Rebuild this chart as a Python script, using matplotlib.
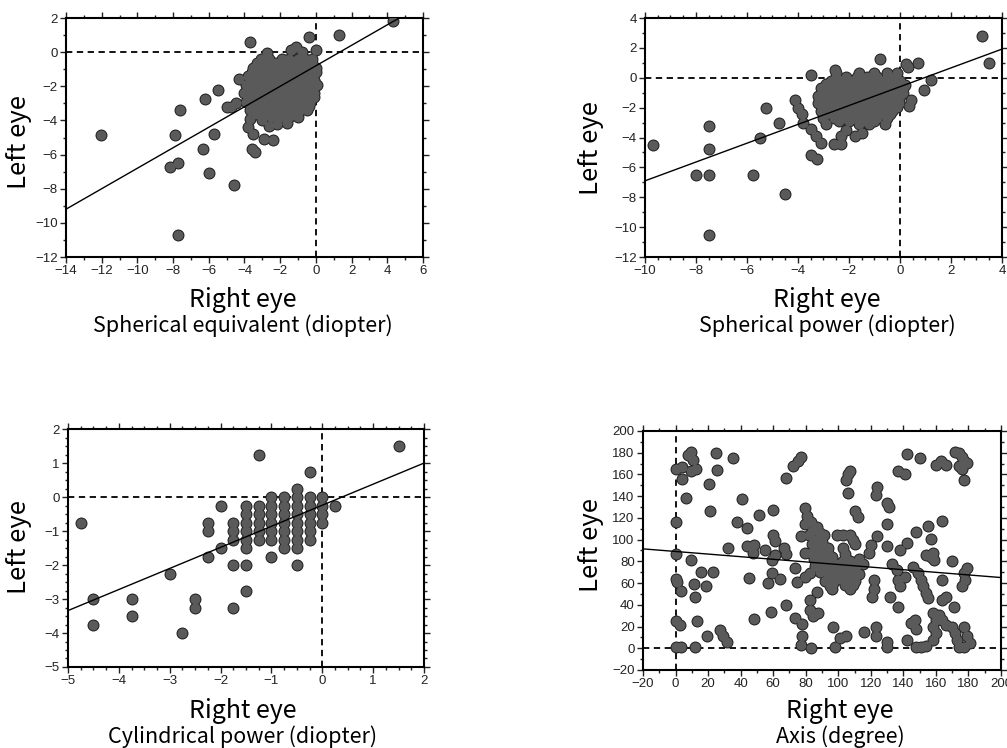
import numpy as np
import matplotlib
matplotlib.use("Agg")
import matplotlib.pyplot as plt
from matplotlib.ticker import MultipleLocator

# Spherical equivalent (right eye, left eye)
se_points = [
    (4.3, 1.8), (1.3, 1.0), (-0.4, 0.9), (-3.7, 0.6), (0.0, 0.1), (-4.3, -1.6),
    (-5.5, -2.2), (-6.2, -2.75), (-7.6, -3.4), (-12.05, -4.85), (-7.9, -4.85),
    (-5.7, -4.8), (-6.35, -5.65), (-8.15, -6.7), (-7.75, -6.5), (-6.0, -7.1),
    (-4.6, -7.8), (-7.7, -10.7), (-5.0, -3.2), (-4.75, -3.2), (-4.5, -3.0),
    (-3.55, -5.7), (-3.4, -5.85),
    (-3.8, -4.4), (-3.5, -4.8), (-2.9, -5.1), (-2.4, -5.15), (-2.2, -4.2),
    (-1.6, -4.15), (-3.7, -3.9), (-3.0, -4.0), (-2.6, -4.3),
    (-2.75, -0.05), (-1.1, 0.3), (-1.4, 0.1), (-0.8, 0.0),
    (-3.1, -0.4), (-2.6, -0.4), (-1.9, -0.4), (-1.5, -0.4), (-1.0, -0.4), (-0.6, -0.4), (-0.2, -0.4),
    (-3.3, -0.65), (-2.8, -0.65), (-2.3, -0.65), (-1.8, -0.65), (-1.4, -0.65), (-1.0, -0.65),
    (-0.6, -0.65), (-0.2, -0.65),
    (-3.5, -0.9), (-3.0, -0.9), (-2.5, -0.9), (-2.0, -0.9), (-1.6, -0.9), (-1.2, -0.9), (-0.8, -0.9),
    (-0.4, -0.9), (0.0, -0.9),
    (-3.6, -1.15), (-3.2, -1.15), (-2.7, -1.15), (-2.2, -1.15), (-1.7, -1.15), (-1.3, -1.15),
    (-0.8, -1.15), (-0.4, -1.15), (0.0, -1.15),
    (-3.8, -1.4), (-3.3, -1.4), (-2.9, -1.4), (-2.4, -1.4), (-1.9, -1.4), (-1.5, -1.4), (-1.0, -1.4),
    (-0.6, -1.4), (-0.2, -1.4),
    (-3.7, -1.65), (-3.2, -1.65), (-2.8, -1.65), (-2.3, -1.65), (-1.9, -1.65), (-1.4, -1.65),
    (-1.0, -1.65), (-0.5, -1.65), (-0.1, -1.65),
    (-3.9, -1.9), (-3.5, -1.9), (-3.0, -1.9), (-2.6, -1.9), (-2.1, -1.9), (-1.7, -1.9), (-1.2, -1.9),
    (-0.8, -1.9), (-0.3, -1.9), (0.05, -1.9),
    (-3.8, -2.15), (-3.3, -2.15), (-2.8, -2.15), (-2.4, -2.15), (-1.9, -2.15), (-1.5, -2.15),
    (-1.0, -2.15), (-0.6, -2.15), (-0.2, -2.15),
    (-4.0, -2.4), (-3.6, -2.4), (-3.1, -2.4), (-2.7, -2.4), (-2.2, -2.4), (-1.8, -2.4), (-1.3, -2.4),
    (-0.9, -2.4), (-0.5, -2.4), (-0.1, -2.4),
    (-3.8, -2.65), (-3.3, -2.65), (-2.9, -2.65), (-2.4, -2.65), (-1.9, -2.65), (-1.4, -2.65),
    (-1.0, -2.65), (-0.5, -2.65), (-0.1, -2.65),
    (-3.9, -2.9), (-3.4, -2.9), (-3.0, -2.9), (-2.5, -2.9), (-2.0, -2.9), (-1.6, -2.9), (-1.1, -2.9),
    (-0.7, -2.9), (-0.3, -2.9),
    (-3.6, -3.15), (-3.1, -3.15), (-2.7, -3.15), (-2.2, -3.15), (-1.7, -3.15), (-1.2, -3.15),
    (-0.8, -3.15), (-0.4, -3.15),
    (-3.7, -3.4), (-3.2, -3.4), (-2.8, -3.4), (-2.3, -3.4), (-1.8, -3.4), (-1.4, -3.4), (-0.9, -3.4),
    (-0.5, -3.4),
    (-3.3, -3.6), (-2.8, -3.6), (-2.3, -3.6), (-1.8, -3.6), (-1.3, -3.6),
    (-3.0, -3.8), (-2.5, -3.8), (-2.0, -3.8), (-1.5, -3.8), (-1.0, -3.8),
]

# Spherical power
sp_points = [
    (3.2, 2.8), (3.5, 1.0), (-0.8, 1.25), (0.7, 1.0), (0.25, 0.9), (0.3, 0.7), (-3.5, 0.2),
    (-2.55, 0.55), (-9.7, -4.5), (-7.5, -3.2), (-7.5, -4.75), (-8.0, -6.5), (-7.5, -6.5),
    (-5.75, -6.5), (-7.5, -10.5), (-4.5, -7.75), (-5.25, -2.0), (-4.75, -3.0), (-5.5, -4.0),
    (1.2, -0.15), (0.95, -0.8),
    (-4.1, -1.5), (-4.0, -2.0), (-3.85, -2.4), (-3.8, -3.0), (-3.5, -3.4), (-3.3, -3.9),
    (-3.1, -4.4), (-3.5, -5.2), (-3.25, -5.45), (-2.6, -4.45), (-2.3, -4.45), (-1.75, -3.9),
    (-1.5, -3.7), (-2.1, -3.5), (-2.3, -3.9),
    (0.35, -1.9), (0.45, -1.5), (0.1, -1.0), (0.2, -0.5),
    (-2.5, 0.3), (-1.6, 0.3), (-1.0, 0.3), (-0.5, 0.3), (-0.1, 0.3),
    (-2.5, 0.05), (-2.1, 0.05), (-1.7, 0.05), (-1.3, 0.05), (-0.9, 0.05), (-0.5, 0.05), (-0.2, 0.05),
    (-2.7, -0.2), (-2.3, -0.2), (-1.9, -0.2), (-1.5, -0.2), (-1.1, -0.2), (-0.7, -0.2), (-0.3, -0.2), (0.0, -0.2),
    (-2.9, -0.45), (-2.5, -0.45), (-2.1, -0.45), (-1.7, -0.45), (-1.3, -0.45), (-0.9, -0.45),
    (-0.5, -0.45), (-0.1, -0.45),
    (-3.1, -0.7), (-2.7, -0.7), (-2.3, -0.7), (-1.9, -0.7), (-1.5, -0.7), (-1.1, -0.7), (-0.7, -0.7),
    (-0.3, -0.7), (0.1, -0.7),
    (-3.0, -0.95), (-2.5, -0.95), (-2.1, -0.95), (-1.7, -0.95), (-1.3, -0.95), (-0.9, -0.95),
    (-0.5, -0.95), (-0.1, -0.95),
    (-3.2, -1.2), (-2.8, -1.2), (-2.4, -1.2), (-2.0, -1.2), (-1.6, -1.2), (-1.2, -1.2), (-0.8, -1.2),
    (-0.4, -1.2), (0.0, -1.2),
    (-3.0, -1.45), (-2.6, -1.45), (-2.2, -1.45), (-1.8, -1.45), (-1.4, -1.45), (-1.0, -1.45),
    (-0.6, -1.45), (-0.2, -1.45),
    (-3.2, -1.7), (-2.8, -1.7), (-2.4, -1.7), (-2.0, -1.7), (-1.6, -1.7), (-1.2, -1.7), (-0.8, -1.7),
    (-0.4, -1.7), (-0.05, -1.7),
    (-3.0, -1.95), (-2.5, -1.95), (-2.1, -1.95), (-1.7, -1.95), (-1.3, -1.95), (-0.9, -1.95),
    (-0.5, -1.95), (-0.1, -1.95),
    (-3.1, -2.2), (-2.7, -2.2), (-2.3, -2.2), (-1.9, -2.2), (-1.5, -2.2), (-1.1, -2.2), (-0.7, -2.2),
    (-0.3, -2.2),
    (-2.9, -2.45), (-2.5, -2.45), (-2.0, -2.45), (-1.6, -2.45), (-1.2, -2.45), (-0.8, -2.45),
    (-0.4, -2.45),
    (-3.0, -2.7), (-2.6, -2.7), (-2.2, -2.7), (-1.8, -2.7), (-1.4, -2.7), (-0.9, -2.7), (-0.5, -2.7),
    (-2.4, -2.9), (-2.0, -2.9), (-1.4, -2.9), (-1.0, -2.9),
    (-2.9, -3.1), (-1.6, -3.1), (-1.2, -3.1), (-0.6, -3.1),
]

# Cylindrical power
cy_points = [
    (-1.75, -0.75), (-1.75, -1.0), (-1.75, -1.25),
    (-1.5, -0.25), (-1.5, -0.5), (-1.5, -0.75), (-1.5, -1.0), (-1.5, -1.25), (-1.5, -1.5),
    (-1.25, -0.25), (-1.25, -0.5), (-1.25, -0.75), (-1.25, -1.0), (-1.25, -1.25),
    (-1.0, 0.0), (-1.0, -0.25), (-1.0, -0.5), (-1.0, -0.75), (-1.0, -1.0), (-1.0, -1.25),
    (-0.75, 0.0), (-0.75, -0.25), (-0.75, -0.5), (-0.75, -0.75), (-0.75, -1.0), (-0.75, -1.25), (-0.75, -1.5),
    (-0.5, 0.25), (-0.5, 0.0), (-0.5, -0.25), (-0.5, -0.5), (-0.5, -0.75), (-0.5, -1.0), (-0.5, -1.25), (-0.5, -1.5),
    (-0.25, 0.0), (-0.25, -0.25), (-0.25, -0.5), (-0.25, -0.75), (-0.25, -1.0), (-0.25, -1.25),
    (0.0, 0.0), (0.0, -0.25), (0.0, -0.5), (0.0, -0.75),
    (1.5, 1.5), (-1.25, 1.25), (-0.25, 0.75), (-4.75, -0.75), (-2.0, -0.25), (0.25, -0.25),
    (-2.25, -0.75), (-2.25, -1.0), (-2.0, -1.5), (-2.25, -1.75), (-3.0, -2.25), (-4.5, -3.0),
    (-4.5, -3.75), (-3.75, -3.0), (-3.75, -3.5), (-2.5, -3.0), (-2.5, -3.25), (-2.75, -4.0),
    (-1.75, -3.25), (-1.5, -2.75), (-1.5, -2.0), (-1.75, -2.0), (-0.5, -2.0), (-1.0, -1.75),
]

# Axis (degree)
ax_points = [
    (0, 165), (3.7, 167), (3.7, 156), (7.7, 178), (9.7, 181), (10.8, 173), (9.7, 163), (12.8, 165),
    (6.7, 138), (20.4, 151), (25.1, 180), (25.5, 164), (35.4, 175), (21.4, 126), (40.9, 137),
    (37.9, 116), (44, 111), (0.5, 116), (0.5, 87), (9.7, 81), (0, 64), (1, 61), (3.6, 53),
    (11.4, 59), (19, 57), (15.7, 70), (22.9, 70), (11.8, 47), (13.2, 25), (0.5, 25), (2.6, 21),
    (19.5, 11), (27.3, 17), (29, 11), (31.4, 6), (0.5, 1), (3.6, 1), (11.8, 1), (32.3, 92),
    (44, 94.5), (48, 95), (47.8, 87.5), (45, 65), (51.2, 123), (55.3, 90), (59.9, 127),
    (60, 104), (61, 99), (59, 81), (61, 86), (56.9, 60), (59, 69), (64, 64), (58.4, 33),
    (48, 27), (66.5, 92), (67.6, 87), (67.6, 157), (67.8, 40), (72, 168), (75, 172), (77, 176),
    (73.6, 74), (77, 103), (74.5, 61), (79.6, 66), (82.6, 69), (73.5, 28), (77.6, 22),
    (77.6, 11), (77, 3), (79.6, 87.5), (83.5, 0),
    (79.6, 129), (81, 122), (83, 116), (85.5, 111), (88.5, 106), (79.6, 114), (82, 104),
    (84, 96), (86, 90), (88, 84), (90.5, 78), (92.5, 72), (85, 82), (88, 92), (90.5, 88),
    (93, 84), (95, 80), (83, 88), (86, 76), (89, 70), (92, 62), (95, 57), (86.7, 52),
    (82.6, 44), (82.6, 35), (84.6, 30), (87.8, 32),
    (86, 100), (90, 98), (92, 92), (94, 88), (96, 84), (89, 80), (92, 76), (96, 70),
    (84, 108), (87, 112), (90, 96), (91, 104), (94, 92), (97, 76), (99, 72), (94, 66),
    (98, 64), (96, 55), (97, 20), (98, 1), (101, 9), (105, 11), (99, 104), (103, 104), (107, 104),
    (109, 100), (110, 96), (103, 92), (104, 87),
    (100, 78), (103, 72), (101, 64), (104, 58), (107, 55), (106, 66), (109, 72), (107, 80),
    (111, 76), (113, 82), (115, 78), (110, 62), (113, 68), (104, 62), (100, 70), (103, 80),
    (102, 68), (105, 76), (108, 68), (111, 70), (106, 60), (109, 58), (97, 60),
    (106, 160), (105, 155), (107, 163), (106, 143), (110, 126), (112, 121), (116, 15),
    (120, 95), (119, 87.5), (124, 103), (122, 63), (122, 55), (121, 47.5), (123, 20), (123, 11),
    (124, 148), (123, 141), (130, 134), (131, 130), (130, 114), (130, 94), (130, 6), (130, 1),
    (132, 47.5), (133, 78), (136, 72), (137, 63), (138, 57), (141, 66), (138, 90), (137, 38),
    (137, 163), (141, 160), (142, 179), (142, 97), (148, 107), (150, 175), (142, 8),
    (145, 23), (147, 26), (148, 18), (146, 75), (149, 69), (151, 63), (152, 57), (154, 51),
    (155, 46), (155, 113), (157, 101), (158, 87.5), (159, 81), (157, 84), (154, 86),
    (148, 1), (151, 1), (154, 2), (158, 8), (160, 14), (158, 20), (160, 26), (158, 32),
    (162, 31), (164, 26), (166, 21), (170, 20), (172, 14), (173, 8), (174, 1), (164, 117),
    (164, 63), (164, 44.5), (166, 47.6), (160, 169), (163, 172), (166, 169), (170, 80),
    (171, 38), (172, 181), (174, 180), (176, 176), (177, 172), (179, 171), (176, 165),
    (177, 155), (174, 168), (179, 74), (177, 69), (178, 63), (176, 57), (177, 20), (179, 11),
    (177, 1), (181, 5),
]

# regression lines (slope, intercept)
se_fit = (0.60, -0.80)
sp_fit = (0.63, -0.60)
cy_fit = (0.62, -0.24)
ax_fit = (-0.12, 89.1)

panels = [
    dict(pts=se_points, fit=se_fit, xlim=(-14, 6), ylim=(-12, 2), xmaj=2, xmin=1, ymaj=2, ymin=1,
         pos=[0.0655, 0.6564, 0.3545, 0.3195], sub="Spherical equivalent (diopter)",
         lx=243, ly=300, yl=(19, 142)),
    dict(pts=sp_points, fit=sp_fit, xlim=(-10, 4), ylim=(-12, 4), xmaj=2, xmin=0.5, ymaj=2, ymin=1,
         pos=[0.6405, 0.6564, 0.3545, 0.3195], sub="Spherical power (diopter)",
         lx=827, ly=300, yl=(591, 148)),
    dict(pts=cy_points, fit=cy_fit, xlim=(-5, 2), ylim=(-5, 2), xmaj=1, xmin=0.25, ymaj=1, ymin=0.25,
         pos=[0.0675, 0.1083, 0.3535, 0.318], sub="Cylindrical power (diopter)",
         lx=243, ly=711, yl=(19, 547)),
    dict(pts=ax_points, fit=ax_fit, xlim=(-20, 200), ylim=(-20, 200), xmaj=20, xmin=10, ymaj=20, ymin=10,
         pos=[0.6385, 0.1043, 0.3555, 0.3195], sub="Axis (degree)",
         lx=840, ly=711, yl=(591, 545)),
]

W, H = 1007, 748
fig = plt.figure(figsize=(W / 100, H / 100), dpi=100)
label_font = ["Noto Sans CJK JP", "DejaVu Sans"]

for p in panels:
    ax = fig.add_axes(p["pos"])
    xs, ys = zip(*p["pts"])
    # outline pass, then fill pass so overlapping dots merge into one mass
    ax.scatter(xs, ys, s=74, c="#1e1e1e", linewidths=0, zorder=3)
    ax.scatter(xs, ys, s=52, c="#5a5a5a", linewidths=0, zorder=3.5)
    x0, x1 = p["xlim"]
    lx = np.array([x0, x1])
    ax.plot(lx, p["fit"][0] * lx + p["fit"][1], color="black", lw=1.0, zorder=4)
    ax.axhline(0, color="black", lw=1.3, ls=(0, (3.5, 2.5)), zorder=2)
    ax.axvline(0, color="black", lw=1.3, ls=(0, (3.5, 2.5)), zorder=2)
    ax.set_xlim(p["xlim"])
    ax.set_ylim(p["ylim"])
    ax.xaxis.set_major_locator(MultipleLocator(p["xmaj"]))
    ax.xaxis.set_minor_locator(MultipleLocator(p["xmin"]))
    ax.yaxis.set_major_locator(MultipleLocator(p["ymaj"]))
    ax.yaxis.set_minor_locator(MultipleLocator(p["ymin"]))
    ax.tick_params(which="both", direction="out", top=True, right=True, width=1.0,
                   labelsize=9.5, pad=2, colors="#222222")
    ax.tick_params(which="major", length=4)
    ax.tick_params(which="minor", length=2.5)
    for lab in ax.get_xticklabels() + ax.get_yticklabels():
        lab.set_fontfamily("Liberation Sans")
    for sp in ax.spines.values():
        sp.set_linewidth(1.5)
    fig.text(p["lx"] / W, 1 - p["ly"] / H, "Right eye", ha="center", va="center",
             fontsize=18, family=label_font)
    fig.text(p["lx"] / W, 1 - (p["ly"] + 26) / H, p["sub"], ha="center", va="center",
             fontsize=15.5, family=label_font)
    fig.text(p["yl"][0] / W, 1 - p["yl"][1] / H, "Left eye", ha="center", va="center",
             rotation=90, fontsize=18.5, family=label_font)

fig.savefig("out.png", dpi=100)
